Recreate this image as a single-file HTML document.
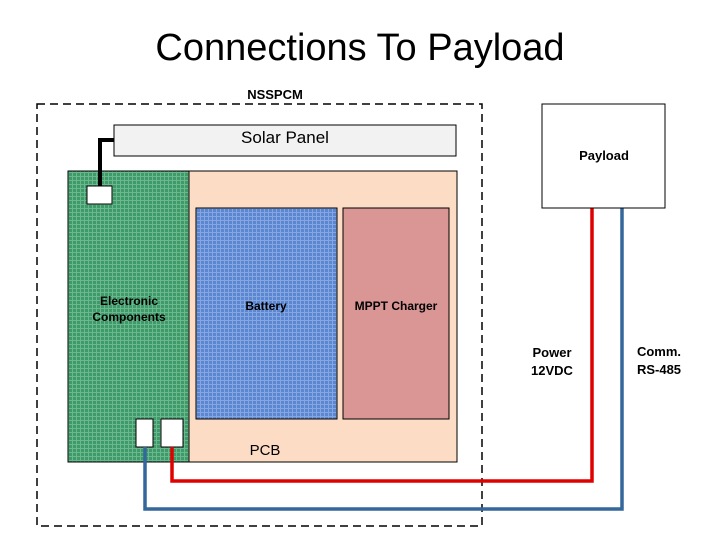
<html><body style="margin:0;width:720px;height:540px;background:#fff;overflow:hidden">
<svg width="720" height="540" xmlns="http://www.w3.org/2000/svg" font-family="Liberation Sans, Arial, sans-serif">
<defs>
<pattern id="g" width="4" height="4" patternUnits="userSpaceOnUse"><rect width="4" height="4" fill="#3f9a69"/><path d="M0 .5H4M.5 0V4" stroke="#6cb88e" stroke-width="1"/></pattern>
<pattern id="b" width="4" height="4" patternUnits="userSpaceOnUse"><rect width="4" height="4" fill="#5a86d2"/><path d="M0 .5H4M.5 0V4" stroke="#86a6e0" stroke-width="1"/></pattern>
</defs>
<text x="360" y="60" font-family="Liberation Sans, Calibri, sans-serif" font-size="38" text-anchor="middle" fill="#000">Connections To Payload</text>
<rect x="37" y="104" width="445" height="422" fill="none" stroke="#000" stroke-width="1.5" stroke-dasharray="8,5"/>
<text x="275" y="99" font-size="13" font-weight="bold" text-anchor="middle">NSSPCM</text>
<rect x="114" y="125" width="342" height="31" fill="#f2f2f2" stroke="#000"/>
<text x="285" y="143" font-size="17" text-anchor="middle">Solar Panel</text>
<rect x="189" y="171" width="268" height="291" fill="#fcdcc4" stroke="#000"/>
<rect x="68" y="171" width="121" height="291" fill="url(#g)" stroke="#000"/>
<rect x="196" y="208" width="141" height="211" fill="url(#b)" stroke="#000"/>
<rect x="343" y="208" width="106" height="211" fill="#d99694" stroke="#000"/>
<text x="129" y="305" font-size="12" font-weight="bold" text-anchor="middle">Electronic</text>
<text x="129" y="321" font-size="12" font-weight="bold" text-anchor="middle">Components</text>
<text x="266" y="310" font-size="12" font-weight="bold" text-anchor="middle">Battery</text>
<text x="396" y="310" font-size="12" font-weight="bold" text-anchor="middle">MPPT Charger</text>
<text x="265" y="455" font-size="15" text-anchor="middle">PCB</text>
<path d="M100 187V140H114" fill="none" stroke="#000" stroke-width="4"/>
<rect x="87" y="186" width="25" height="18" fill="#fff" stroke="#000"/>
<rect x="136" y="419" width="17" height="28" fill="#fff" stroke="#000"/>
<rect x="161" y="419" width="22" height="28" fill="#fff" stroke="#000"/>
<path d="M172 447V481H592V208" fill="none" stroke="#e00000" stroke-width="3.5"/>
<path d="M145 447V509H622V208" fill="none" stroke="#34679c" stroke-width="3.5"/>
<rect x="542" y="104" width="123" height="104" fill="#fff" stroke="#000"/>
<text x="604" y="160" font-size="13" font-weight="bold" text-anchor="middle">Payload</text>
<text x="552" y="357" font-size="13" font-weight="bold" text-anchor="middle">Power</text>
<text x="552" y="375" font-size="13" font-weight="bold" text-anchor="middle">12VDC</text>
<text x="659" y="356" font-size="13" font-weight="bold" text-anchor="middle">Comm.</text>
<text x="659" y="374" font-size="13" font-weight="bold" text-anchor="middle">RS-485</text>
</svg>
</body></html>
